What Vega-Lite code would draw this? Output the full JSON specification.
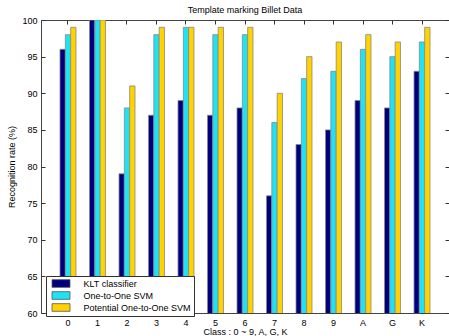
{
  "$schema": "https://vega.github.io/schema/vega-lite/v6.json",
  "width": 408,
  "height": 293,
  "autosize": {"type": "none"},
  "padding": {"left": 41, "top": 20, "right": 0, "bottom": 23},
  "background": "white",
  "title": {"text": "Template marking Billet Data", "fontSize": 9, "fontWeight": "normal", "font": "Liberation Sans", "offset": 1.5, "color": "black"},
  "config": {
    "view": {"stroke": "#444", "strokeWidth": 1},
    "axis": {"labelFont": "Liberation Sans", "titleFont": "Liberation Sans", "labelFontSize": 9, "titleFontSize": 9, "titleFontWeight": "normal", "labelColor": "#000", "titleColor": "#000", "grid": false, "domain": false, "tickColor": "#333", "tickSize": -4}
  },
  "data": {"values": [
    {"cls": "0", "method": "KLT classifier", "rate": 96},
    {"cls": "0", "method": "One-to-One SVM", "rate": 98},
    {"cls": "0", "method": "Potential One-to-One SVM", "rate": 99},
    {"cls": "1", "method": "KLT classifier", "rate": 100},
    {"cls": "1", "method": "One-to-One SVM", "rate": 100},
    {"cls": "1", "method": "Potential One-to-One SVM", "rate": 100},
    {"cls": "2", "method": "KLT classifier", "rate": 79},
    {"cls": "2", "method": "One-to-One SVM", "rate": 88},
    {"cls": "2", "method": "Potential One-to-One SVM", "rate": 91},
    {"cls": "3", "method": "KLT classifier", "rate": 87},
    {"cls": "3", "method": "One-to-One SVM", "rate": 98},
    {"cls": "3", "method": "Potential One-to-One SVM", "rate": 99},
    {"cls": "4", "method": "KLT classifier", "rate": 89},
    {"cls": "4", "method": "One-to-One SVM", "rate": 99},
    {"cls": "4", "method": "Potential One-to-One SVM", "rate": 99},
    {"cls": "5", "method": "KLT classifier", "rate": 87},
    {"cls": "5", "method": "One-to-One SVM", "rate": 98},
    {"cls": "5", "method": "Potential One-to-One SVM", "rate": 99},
    {"cls": "6", "method": "KLT classifier", "rate": 88},
    {"cls": "6", "method": "One-to-One SVM", "rate": 98},
    {"cls": "6", "method": "Potential One-to-One SVM", "rate": 99},
    {"cls": "7", "method": "KLT classifier", "rate": 76},
    {"cls": "7", "method": "One-to-One SVM", "rate": 86},
    {"cls": "7", "method": "Potential One-to-One SVM", "rate": 90},
    {"cls": "8", "method": "KLT classifier", "rate": 83},
    {"cls": "8", "method": "One-to-One SVM", "rate": 92},
    {"cls": "8", "method": "Potential One-to-One SVM", "rate": 95},
    {"cls": "9", "method": "KLT classifier", "rate": 85},
    {"cls": "9", "method": "One-to-One SVM", "rate": 93},
    {"cls": "9", "method": "Potential One-to-One SVM", "rate": 97},
    {"cls": "A", "method": "KLT classifier", "rate": 89},
    {"cls": "A", "method": "One-to-One SVM", "rate": 96},
    {"cls": "A", "method": "Potential One-to-One SVM", "rate": 98},
    {"cls": "G", "method": "KLT classifier", "rate": 88},
    {"cls": "G", "method": "One-to-One SVM", "rate": 95},
    {"cls": "G", "method": "Potential One-to-One SVM", "rate": 97},
    {"cls": "K", "method": "KLT classifier", "rate": 93},
    {"cls": "K", "method": "One-to-One SVM", "rate": 97},
    {"cls": "K", "method": "Potential One-to-One SVM", "rate": 99}
  ]},
  "layer": [
    {
      "mark": {"type": "bar", "stroke": "#888", "strokeWidth": 0.8, "clip": true},
      "encoding": {
        "x": {"field": "cls", "type": "nominal", "sort": ["0","1","2","3","4","5","6","7","8","9","A","G","K"],
              "scale": {"paddingInner": 0.458, "paddingOuter": 0.644},
              "axis": {"title": "Class : 0 ~ 9, A, G, K", "labelAngle": 0, "labelPadding": 9, "titlePadding": 0}},
        "xOffset": {"field": "method", "type": "nominal", "sort": ["KLT classifier", "One-to-One SVM", "Potential One-to-One SVM"], "scale": {"paddingInner": 0, "paddingOuter": 0}},
        "y": {"field": "rate", "type": "quantitative", "scale": {"domain": [60, 100], "nice": false, "zero": false},
              "axis": {"title": "Recognition rate (%)", "values": [60, 65, 70, 75, 80, 85, 90, 95, 100], "labelPadding": 8, "titlePadding": 5}},
        "color": {"field": "method", "type": "nominal", "sort": ["KLT classifier", "One-to-One SVM", "Potential One-to-One SVM"],
                  "scale": {"domain": ["KLT classifier", "One-to-One SVM", "Potential One-to-One SVM"], "range": ["#00007f", "#1ee3f5", "#ffd200"]},
                  "legend": {"title": null, "orient": "none", "legendX": 5, "legendY": 256, "fillColor": "white", "strokeColor": "#333", "padding": 2.5,
                             "symbolType": "M-0.33,-0.85H3.67V0.85H-0.33Z", "symbolSize": 81, "symbolStrokeColor": "#555", "symbolStrokeWidth": 0.8,
                             "labelFont": "Liberation Sans", "labelFontSize": 9, "labelColor": "#000", "labelOffset": 25, "rowPadding": 0, "labelLimit": 200}}
      }
    },
    {
      "mark": {"type": "point", "opacity": 0},
      "encoding": {
        "x": {"field": "cls", "type": "nominal", "sort": ["0","1","2","3","4","5","6","7","8","9","A","G","K"],
              "axis": {"orient": "top", "labels": false, "title": null}},
        "y": {"field": "rate", "type": "quantitative", "axis": {"orient": "right", "labels": false, "title": null, "values": [60, 65, 70, 75, 80, 85, 90, 95, 100]}}
      }
    }
  ],
  "resolve": {"axis": {"x": "independent", "y": "independent"}}
}
